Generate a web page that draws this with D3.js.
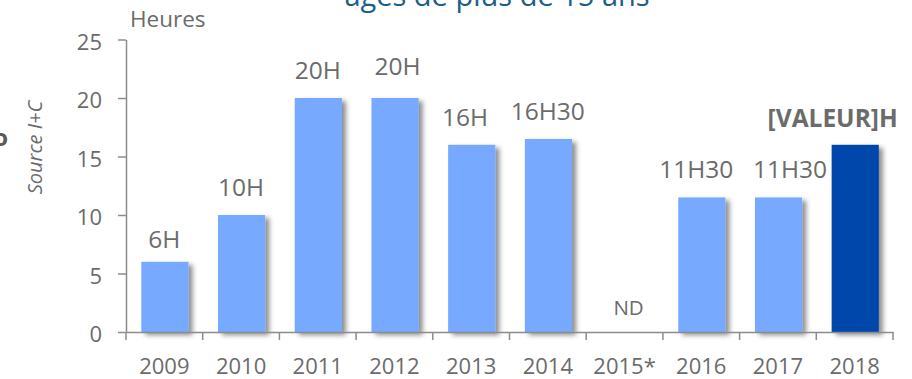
<!DOCTYPE html>
<html>
<head>
<meta charset="utf-8">
<script src="https://cdn.jsdelivr.net/npm/d3@7"></script>
<style>
  html, body { margin: 0; padding: 0; background: #fff; }
  svg { display: block; font-family: "Open Sans", sans-serif; }
</style>
</head>
<body>
<svg id="chart" width="912" height="379"></svg>
<script>
// Heures par an, 2009–2018 (2015 : non disponible)
const years = ["2009", "2010", "2011", "2012", "2013", "2014", "2015*", "2016", "2017", "2018"];
const hours = [6, 10, 20, 20, 16, 16.5, null, 11.5, 11.5, 16];
const labels = ["6H", "10H", "20H", "20H", "16H", "16H30", "ND", "11H30", "11H30", "[VALEUR]H"];
const highlight = ["2018"];
const yTicks = [0, 5, 10, 15, 20, 25];

const svg = d3.select("#chart");
const plot = { left: 126, right: 893, top: 39.5, bottom: 332 };
const grey = "#6b6b6b", axisGrey = "#8c8c8c";

const x = d3.scaleBand().domain(years).range([plot.left, plot.right]).padding(0);
const y = d3.scaleLinear().domain([0, 25]).range([plot.bottom, plot.top]);

const defs = svg.append("defs");
const f = defs.append("filter").attr("id", "shadow")
  .attr("x", "-20%").attr("y", "-10%").attr("width", "160%").attr("height", "130%");
f.append("feDropShadow").attr("dx", 4).attr("dy", 3).attr("stdDeviation", 2.4)
  .attr("flood-color", "#000").attr("flood-opacity", 0.45);

// Title (second line, partly above the frame)
svg.append("text").attr("x", 497).attr("y", 6).attr("text-anchor", "middle")
  .attr("font-size", 29).attr("fill", "#1b5e8c").text("âgés de plus de 15 ans");

// Side annotations
svg.append("text").attr("x", 8).attr("y", 146).attr("text-anchor", "end")
  .attr("font-size", 24).attr("font-weight", "bold").attr("fill", "#595959").text("o");
svg.append("text").attr("transform", "translate(42,147.5) rotate(-90)")
  .attr("text-anchor", "middle").attr("font-size", 20).attr("font-style", "italic")
  .attr("fill", grey).text("Source I+C");

// Unit label
svg.append("text").attr("x", 130).attr("y", 27).attr("font-size", 22.5)
  .attr("fill", grey).text("Heures");

const data = years.map((yr, i) => ({ year: yr, value: hours[i], label: labels[i] }));

// Bars
const barOffset = x.bandwidth() * 0.2, barWidth = x.bandwidth() * 0.615;
svg.append("g").attr("filter", "url(#shadow)")
  .selectAll("rect").data(data.filter(d => d.value != null)).join("rect")
  .attr("x", d => x(d.year) + barOffset)
  .attr("width", barWidth)
  .attr("y", d => y(d.value))
  .attr("height", d => y(0) - y(d.value))
  .attr("fill", d => highlight.includes(d.year) ? "#0047ab" : "#76a9ff");

// Y axis
const yAxis = svg.append("g").attr("transform", `translate(${plot.left},0)`)
  .call(d3.axisLeft(y).tickValues(yTicks).tickSize(8).tickSizeOuter(0).tickPadding(16));
yAxis.selectAll("text").attr("font-size", 22).attr("fill", grey)
  .attr("font-family", "Open Sans, sans-serif").attr("dy", "0.45em");

// X axis: labels centred on categories, ticks on category boundaries
const xAxis = svg.append("g").attr("transform", `translate(0,${plot.bottom})`)
  .call(d3.axisBottom(x).tickSize(0).tickSizeOuter(0).tickPadding(26));
xAxis.selectAll("text").attr("font-size", 22).attr("fill", grey)
  .attr("font-family", "Open Sans, sans-serif");
const bounds = years.map(d => x(d)).concat([x(years[years.length - 1]) + x.bandwidth()]);
xAxis.selectAll("line.bound").data(bounds).join("line").attr("class", "bound")
  .attr("x1", d => d).attr("x2", d => d).attr("y1", 0).attr("y2", 8);

svg.selectAll(".domain, .tick line, line.bound")
  .attr("stroke", axisGrey).attr("stroke-width", 1.5);

// Value labels, with hand-placed nudges where labels would crowd
const nudge = {
  "2009": [0, 5], "2012": [3, -4], "2013": [-6, 0], "2015*": [4, 2],
  "2016": [-5, 0], "2017": [12, 0], "2018": [-22, 1]
};
svg.append("g").selectAll("text").data(data).join("text")
  .attr("x", d => x(d.year) + x.bandwidth() / 2 + (nudge[d.year] || [0, 0])[0])
  .attr("y", d => y(d.value == null ? 0 : d.value) - 19 + (nudge[d.year] || [0, 0])[1])
  .attr("text-anchor", "middle")
  .attr("font-size", d => d.value == null ? 20.5 : 24.5)
  .attr("font-weight", d => highlight.includes(d.year) ? "bold" : "normal")
  .attr("fill", grey)
  .text(d => d.label);
</script>
</body>
</html>
